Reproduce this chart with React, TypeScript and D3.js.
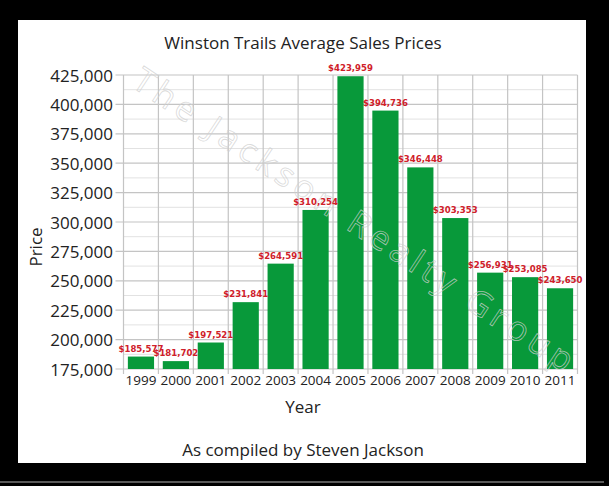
import * as d3 from "d3";

const years = ["1999", "2000", "2001", "2002", "2003", "2004", "2005", "2006", "2007", "2008", "2009", "2010", "2011"];
const prices = [185577, 181702, 197521, 231841, 264591, 310254, 423959, 394736, 346448, 303353, 256931, 253085, 243650];
const yTicks = [175000, 200000, 225000, 250000, 275000, 300000, 325000, 350000, 375000, 400000, 425000];

const W = 609;
const H = 486;
const left = 123.5;
const right = 577.5;
const top = 75;
const bottom = 369;

const font = "'Open Sans', 'DejaVu Sans', sans-serif";
const labelFont = "'DejaVu Sans Condensed', 'Liberation Sans Narrow', 'DejaVu Sans', sans-serif";

export default function App() {
  const x = d3.scaleBand<string>().domain(years).range([left, right]).paddingInner(0.25).paddingOuter(0.125);
  const y = d3.scaleLinear().domain([175000, 425000]).range([bottom, top]);
  const step = x.step();
  // category boundaries for vertical grid lines
  const bounds = years.map((_, i) => left + i * step).concat([right]);
  const minor = yTicks.slice(0, -1).map((t) => t + 12500);
  const fmt = d3.format(",");

  return (
    <div style={{ position: "absolute", left: 0, top: 0 }}>
      <svg width={W} height={H} style={{ display: "block" }}>
        <rect x={0} y={0} width={W} height={H} fill="#000" />
        <rect x={18} y={20} width={568} height={443} fill="#fff" />
        <line x1={0} x2={604} y1={482} y2={482} stroke="#777" strokeWidth={1.5} />

        <text x={303} y={49} textAnchor="middle" fontFamily={font} fontSize={17} fill="#222">
          Winston Trails Average Sales Prices
        </text>

        {/* grid */}
        {minor.map((t) => (
          <line key={"m" + t} x1={left} x2={right} y1={y(t)} y2={y(t)} stroke="#e2e2e2" strokeWidth={1} />
        ))}
        {yTicks.map((t) => (
          <line key={"g" + t} x1={left - 8} x2={right} y1={y(t)} y2={y(t)} stroke="#c4c4c4" strokeWidth={1.2} />
        ))}
        {bounds.map((b, i) => (
          <line key={"v" + i} x1={b} x2={b} y1={top} y2={bottom + 5} stroke="#c4c4c4" strokeWidth={1.2} />
        ))}

        {/* bars */}
        {years.map((yr, i) => (
          <rect
            key={yr}
            x={x(yr)}
            y={y(prices[i])}
            width={x.bandwidth()}
            height={bottom - y(prices[i])}
            fill="#08993a"
          />
        ))}

        {/* watermark */}
        <text
          x={0}
          y={0}
          transform="translate(352,222) rotate(33.5)"
          textAnchor="middle"
          dominantBaseline="middle"
          fontFamily={font}
          fontSize={34}
          fill="none"
          stroke="#d0d0d0"
          strokeOpacity={0.8}
          strokeWidth={0.8}
          textLength={520}
          lengthAdjust="spacing"
        >
          The Jackson Realty Group
        </text>

        {/* value labels */}
        {years.map((yr, i) => (
          <text
            key={"l" + yr}
            x={(x(yr) as number) + x.bandwidth() / 2}
            y={y(prices[i]) - 5}
            textAnchor="middle"
            fontFamily={labelFont}
            fontWeight="bold"
            fontSize={9.5}
            fill="#d0202a"
          >
            {"$" + fmt(prices[i])}
          </text>
        ))}

        {/* y axis labels */}
        {yTicks.map((t) => (
          <text
            key={"yt" + t}
            x={113}
            y={y(t)}
            textAnchor="end"
            dominantBaseline="central"
            fontFamily={font}
            fontSize={17}
            fill="#222"
          >
            {fmt(t)}
          </text>
        ))}

        {/* x axis labels */}
        {years.map((yr) => (
          <text
            key={"xt" + yr}
            x={(x(yr) as number) + x.bandwidth() / 2}
            y={385}
            textAnchor="middle"
            fontFamily={font}
            fontSize={13.5}
            fill="#222"
          >
            {yr}
          </text>
        ))}

        <text x={303} y={413} textAnchor="middle" fontFamily={font} fontSize={17} fill="#222">
          Year
        </text>
        <text
          transform="translate(42,247) rotate(-90)"
          textAnchor="middle"
          fontFamily={font}
          fontSize={17}
          fill="#222"
        >
          Price
        </text>
        <text x={303} y={456} textAnchor="middle" fontFamily={font} fontSize={17} fill="#222">
          As compiled by Steven Jackson
        </text>
      </svg>
    </div>
  );
}
